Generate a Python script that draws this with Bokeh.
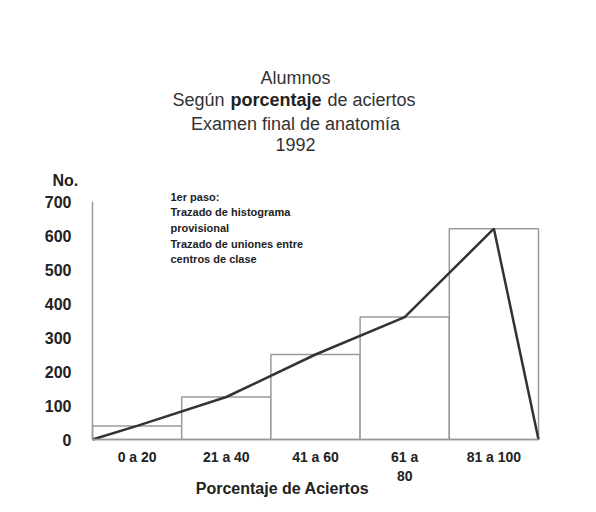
from bokeh.plotting import figure
from bokeh.models import Range1d, FixedTicker, Label, ColumnDataSource
from bokeh.embed import file_html
from bokeh.resources import INLINE

# ---- data ----
categories = ["0 a 20", "21 a 40", "41 a 60", "61 a\n80", "81 a 100"]
counts = [40, 125, 250, 360, 620]
y_ticks = [0, 100, 200, 300, 400, 500, 600, 700]
title_lines = ["Alumnos", "Examen final de anatomía", "1992"]
note_lines = ["1er paso:", "Trazado de histograma", "provisional",
              "Trazado de uniones entre", "centros de clase"]

centers = list(range(1, len(categories) + 1))
# frequency polygon: start at left edge (0), class centers, end at right edge (0)
poly_x = [centers[0] - 0.5] + centers + [centers[-1] + 0.5]
poly_y = [0] + counts + [0]

W, H = 580, 504
# plotting area in canvas pixels: x 92..538, y (top) 201..439
PL, PR, PT, PB = 92, 538, 201, 439
YMAX = y_ticks[-1]
xu = (PR - PL) / len(categories)       # px per class
yu = (PB - PT) / YMAX                  # px per count
x0, x1 = 0.5, len(categories) + 0.5
p = figure(width=W, height=H, output_backend="svg", toolbar_location=None,
           x_range=Range1d(x0 - PL / xu, x1 + (W - PR) / xu),
           y_range=Range1d(-(H - PB) / yu, YMAX + PT / yu),
           min_border_left=0, min_border_right=0,
           min_border_top=0, min_border_bottom=0)
p.outline_line_color = None
p.xgrid.grid_line_color = None
p.ygrid.grid_line_color = None
p.background_fill_color = "white"
p.border_fill_color = "white"

src = ColumnDataSource(dict(x=centers, top=counts))
p.vbar(x="x", top="top", bottom=0, width=1.0, source=src,
       fill_color="white", line_color="#9a9a9a", line_width=1.5)
p.line(poly_x, poly_y, line_color="#333333", line_width=2.5)

# axes (placed at the data origin of the histogram)
p.yaxis.fixed_location = x0
p.yaxis.bounds = (0, YMAX)
p.yaxis.ticker = FixedTicker(ticks=y_ticks)
p.yaxis.major_tick_line_color = None
p.yaxis.minor_tick_line_color = None
p.yaxis.axis_line_color = "#9a9a9a"
p.yaxis.axis_line_width = 1.5
p.yaxis.major_label_standoff = 15
p.yaxis.major_label_text_font = "Liberation Sans"
p.yaxis.major_label_text_font_style = "bold"
p.yaxis.major_label_text_font_size = "16px"
p.yaxis.major_label_text_color = "#222222"

p.xaxis.fixed_location = 0
p.xaxis.bounds = (x0, x1)
p.xaxis.ticker = FixedTicker(ticks=centers)
p.xaxis.major_label_overrides = {c: lab for c, lab in zip(centers, categories)}
p.xaxis.major_tick_line_color = None
p.xaxis.minor_tick_line_color = None
p.xaxis.axis_line_color = "#9a9a9a"
p.xaxis.axis_line_width = 1.5
p.xaxis.major_label_standoff = 3
p.xaxis.major_label_text_font = "Liberation Sans"
p.xaxis.major_label_text_font_style = "bold"
p.xaxis.major_label_text_font_size = "14px"
p.xaxis.major_label_text_color = "#222222"

def lab(text, x, y, size, style="normal", align="left", color="#333333"):
    # x, y given in canvas pixels from top-left
    p.add_layout(Label(x=x, y=H - y, x_units="screen", y_units="screen",
                       text=text, text_font="Liberation Sans",
                       text_font_size=size, text_font_style=style,
                       text_align=align, text_baseline="middle",
                       text_color=color))

# title
lab(title_lines[0], 295, 77, "18px", align="center")
lab("Según", 172, 99, "18px")
lab("porcentaje", 230, 99, "18px", style="bold", color="#222222")
lab("de aciertos", 327, 99, "18px")
lab(title_lines[1], 295, 123, "18px", align="center")
lab(title_lines[2], 295, 144, "18px", align="center")

# y axis title
lab("No.", 52, 180, "16px", style="bold", color="#222222")

# note
for i, t in enumerate(note_lines):
    lab(t, 170, 196 + i * 15.7, "11px", style="bold", color="#222222")

# x axis title
lab("Porcentaje de Aciertos", 282, 488, "16px", style="bold",
    align="center", color="#222222")

open("out.html", "w").write(file_html(p, INLINE))
